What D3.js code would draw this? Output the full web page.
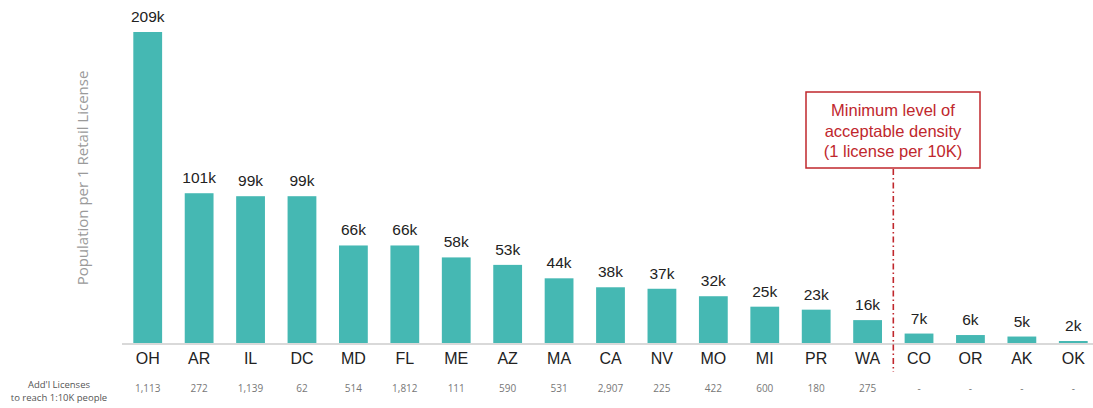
<!DOCTYPE html>
<html lang="en">
<head>
    <meta charset="UTF-8">
    <script src="https://d3js.org/d3.v7.min.js"></script>
    <title>Population per Retail License</title>
    <style>
        body { margin: 0; background: #fff; }
    </style>
</head>
<body>
    <script>
        var states = ['OH','AR','IL','DC','MD','FL','ME','AZ','MA','CA','NV','MO','MI','PR','WA','CO','OR','AK','OK'];
        var popPerLicense = [209,101,99,99,66,66,58,53,44,38,37,32,25,23,16,7,6,5,2];
        var addlLicenses = ['1,113','272','1,139','62','514','1,812','111','590','531','2,907','225','422','600','180','275','-','-','-','-'];
        var noteLines = ['Minimum level of','acceptable density','(1 license per 10K)'];

        var width = 1093;
        var height = 408;
        var baseY = 344;

        var svg = d3.select('body')
                    .append('svg')
                    .attr('width', width)
                    .attr('height', height);

        var x = d3.scaleBand()
                  .domain(states)
                  .range([122, 1099])
                  .paddingInner(0.44)
                  .paddingOuter(0.22);

        var y = d3.scaleLinear()
                  .domain([0, 209])
                  .range([baseY, 32]);

        // bars
        svg.selectAll('rect.bar')
            .data(popPerLicense)
            .enter()
                .append('rect')
                .attr('class', 'bar')
                .attr('x', function(d, i){ return x(states[i]); })
                .attr('y', function(d){ return y(d); })
                .attr('width', x.bandwidth())
                .attr('height', function(d){ return baseY - y(d); })
                .attr('fill', '#45b8b3');

        // value labels
        svg.selectAll('text.val')
            .data(popPerLicense)
            .enter()
                .append('text')
                .attr('class', 'val')
                .attr('x', function(d, i){ return x(states[i]) + x.bandwidth() / 2; })
                .attr('y', function(d){ return y(d) - 10; })
                .attr('text-anchor', 'middle')
                .style('font-family', 'Liberation Sans, Arial, sans-serif')
                .style('font-size', '15.5px')
                .style('fill', '#222')
                .text(function(d){ return d + 'k'; });

        // x axis
        var xAxis = d3.axisBottom(x).tickSize(0).tickPadding(9);
        var gx = svg.append('g')
            .attr('transform', 'translate(0,' + baseY + ')')
            .call(xAxis);
        gx.select('.domain')
            .attr('d', 'M122,0H1093')
            .attr('stroke', '#d9d9d9')
            .attr('stroke-width', 2);
        gx.selectAll('text')
            .style('font-family', 'Liberation Sans, Arial, sans-serif')
            .style('font-size', '16px')
            .style('fill', '#222');

        // added licenses row
        svg.selectAll('text.addl')
            .data(addlLicenses)
            .enter()
                .append('text')
                .attr('class', 'addl')
                .attr('x', function(d, i){ return x(states[i]) + x.bandwidth() / 2; })
                .attr('y', 392)
                .attr('text-anchor', 'middle')
                .style('font-family', 'Open Sans, sans-serif')
                .style('font-size', '10px')
                .style('fill', '#777')
                .text(function(d){ return d; });

        var rowLabel = svg.append('text')
            .attr('x', 59)
            .attr('text-anchor', 'middle')
            .style('font-family', 'Open Sans, sans-serif')
            .style('font-size', '9.5px')
            .style('fill', '#555');
        rowLabel.append('tspan').attr('x', 59).attr('y', 388).text("Add'l Licenses");
        rowLabel.append('tspan').attr('x', 59).attr('y', 401).text('to reach 1:10K people');

        // y axis title
        svg.append('text')
            .attr('transform', 'translate(88,178) rotate(-90)')
            .attr('text-anchor', 'middle')
            .style('font-family', 'Open Sans, sans-serif')
            .style('font-size', '15px')
            .style('fill', '#9a9a9a')
            .text('Population per 1 Retail License');

        // threshold line between WA and CO
        var lineX = (x('WA') + x.bandwidth() + x('CO')) / 2;
        svg.append('line')
            .attr('x1', lineX).attr('x2', lineX)
            .attr('y1', 169).attr('y2', 372)
            .attr('stroke', '#c0272d')
            .attr('stroke-width', 1.6)
            .attr('stroke-dasharray', '6,3,1.5,3');

        svg.append('rect')
            .attr('x', 806).attr('y', 92)
            .attr('width', 174).attr('height', 76)
            .attr('fill', '#fff')
            .attr('stroke', '#c0272d')
            .attr('stroke-width', 1.5);

        svg.selectAll('text.note')
            .data(noteLines)
            .enter()
                .append('text')
                .attr('class', 'note')
                .attr('x', 893)
                .attr('y', function(d, i){ return 116 + i * 20.5; })
                .attr('text-anchor', 'middle')
                .style('font-family', 'Liberation Sans, Arial, sans-serif')
                .style('font-size', '16.5px')
                .style('fill', '#c0272d')
                .text(function(d){ return d; });
    </script>
</body>
</html>
